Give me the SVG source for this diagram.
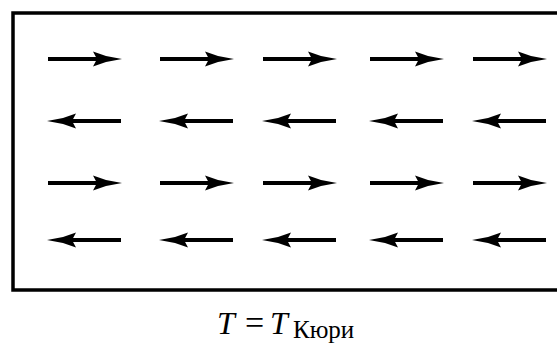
<svg xmlns="http://www.w3.org/2000/svg" width="557" height="347" viewBox="0 0 557 347">
<defs>
<g id="ar">
<line x1="0" y1="0" x2="60" y2="0" stroke="#000" stroke-width="4"/>
<path d="M45,-7.5 L58,-3 L74,0 L58,3 L45,7.5 L49,0 Z" fill="#000"/>
</g>
<g id="al">
<line x1="13" y1="0" x2="73" y2="0" stroke="#000" stroke-width="4"/>
<path d="M28,-7.5 L15,-3 L-1,0 L15,3 L28,7.5 L24,0 Z" fill="#000"/>
</g>
</defs>
<style>
.lbl{font-family:"Liberation Serif","Times New Roman",serif;fill:#000}
</style>
<rect x="0" y="0" width="557" height="347" fill="#fff"/>
<g id="frame">
<path d="M562,13 L13,13 L13,290 L562,290" fill="none" stroke="#000" stroke-width="3.5"/>
</g>
<g id="arrows">
<use href="#ar" x="48" y="59"/><use href="#ar" x="160" y="59"/><use href="#ar" x="263" y="59"/><use href="#ar" x="370" y="59"/><use href="#ar" x="473" y="59"/>
<use href="#al" x="48" y="121"/><use href="#al" x="160" y="121"/><use href="#al" x="263" y="121"/><use href="#al" x="370" y="121"/><use href="#al" x="473" y="121"/>
<use href="#ar" x="48" y="183"/><use href="#ar" x="160" y="183"/><use href="#ar" x="263" y="183"/><use href="#ar" x="370" y="183"/><use href="#ar" x="473" y="183"/>
<use href="#al" x="48" y="240"/><use href="#al" x="160" y="240"/><use href="#al" x="263" y="240"/><use href="#al" x="370" y="240"/><use href="#al" x="473" y="240"/>
</g>
<g id="label">
<text class="lbl" x="217" y="334" font-size="32"><tspan font-style="italic">T</tspan><tspan x="245" font-size="34">=</tspan><tspan x="270" font-style="italic">T</tspan><tspan font-size="25" dy="4" x="293">Кюри</tspan></text>
</g>
</svg>
